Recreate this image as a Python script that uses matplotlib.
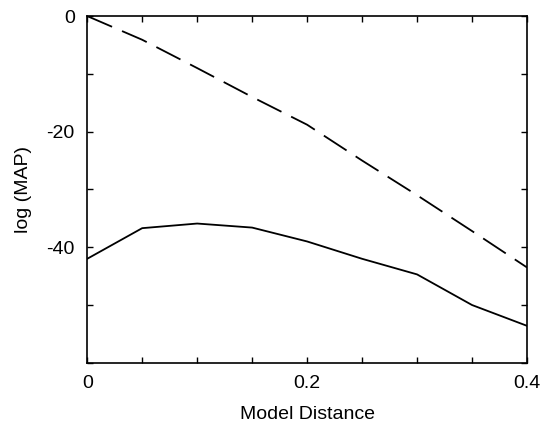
import matplotlib
matplotlib.use('Agg')
import matplotlib.pyplot as plt
from matplotlib.ticker import MultipleLocator

plt.rcParams['font.family'] = ['Liberation Sans', 'DejaVu Sans']

distance = [0.0, 0.05, 0.1, 0.15, 0.2, 0.25, 0.3, 0.35, 0.4]
map_solid = [-42.0, -36.7, -35.9, -36.6, -39.0, -42.0, -44.7, -50.0, -53.6]
map_dashed = [0.0, -4.1, -9.0, -14.0, -18.8, -25.0, -31.0, -37.2, -43.5]

fig = plt.figure(figsize=(5.45, 4.34), dpi=100)
ax = fig.add_axes([0.16, 0.164, 0.807, 0.799])

ax.plot(distance, map_solid, color='black', lw=1.3)
ax.plot(distance, map_dashed, color='black', lw=1.3, dashes=(15, 6))

ax.set_xlim(0, 0.4)
ax.set_ylim(-60, 0)
ax.set_xticks([0, 0.2, 0.4])
ax.set_xticklabels(['0', '0.2', '0.4'])
ax.set_yticks([0, -20, -40])
ax.set_yticklabels(['0', '-20', '-40'])
ax.xaxis.set_minor_locator(MultipleLocator(0.05))
ax.yaxis.set_minor_locator(MultipleLocator(10))
ax.tick_params(which='both', direction='in', top=True, right=True, length=4, width=1, labelsize=14, pad=9)
for s in ax.spines.values():
    s.set_linewidth(1.2)

ax.set_xlabel('Model Distance', fontsize=14, labelpad=10)
ax.set_ylabel('log (MAP)', fontsize=14, labelpad=10)

fig.savefig('out.png', dpi=100)
